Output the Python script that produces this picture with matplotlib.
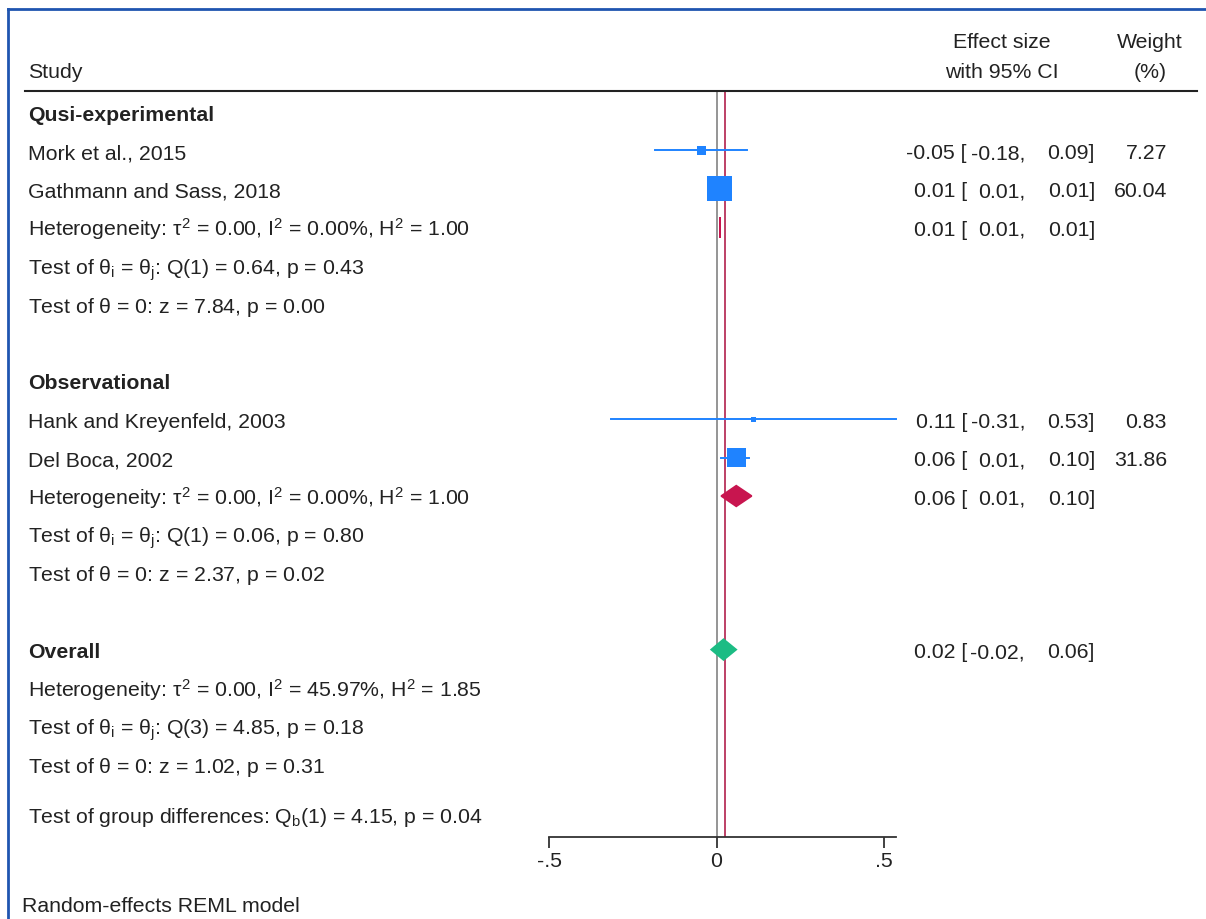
import numpy as np
import matplotlib.pyplot as plt
from matplotlib import transforms
from matplotlib.lines import Line2D
from matplotlib.patches import Polygon

plt.rcParams["font.family"] = ["Liberation Sans", "DejaVu Sans"]
plt.rcParams["mathtext.fontset"] = "custom"
plt.rcParams["mathtext.rm"] = "Liberation Sans"
plt.rcParams["mathtext.it"] = "Liberation Sans"
plt.rcParams["mathtext.bf"] = "Liberation Sans:bold"

# study level data
studies = ["Mork et al., 2015", "Gathmann and Sass, 2018",
           "Hank and Kreyenfeld, 2003", "Del Boca, 2002"]
study_rows = [1, 2, 8, 9]
study_es = [-0.05, 0.01, 0.11, 0.06]
study_lo = [-0.18, 0.01, -0.31, 0.01]
study_hi = [0.09, 0.01, 0.53, 0.10]
study_weight = [7.27, 60.04, 0.83, 31.86]
# plotted positions (a bit more precise than the labels)
study_x = [-0.045, 0.010, 0.110, 0.060]
study_x_lo = [-0.183, 0.010, -0.315, 0.012]
study_x_hi = [0.092, 0.010, 0.537, 0.098]

# subgroup / overall pooled estimates
pooled_names = ["Qusi-experimental", "Observational", "Overall"]
pooled_header_rows = [0, 7, 14]
pooled_rows = [3, 10, 14]
pooled_es = [0.01, 0.06, 0.02]
pooled_lo = [0.01, 0.01, -0.02]
pooled_hi = [0.01, 0.10, 0.06]
pooled_x = [0.011, 0.059, 0.021]
pooled_x_lo = [0.011, 0.014, -0.016]
pooled_x_hi = [0.011, 0.105, 0.059]
pooled_colors = ["#c8154f", "#c8154f", "#1cbc84"]

stat_rows = [3, 4, 5, 10, 11, 12, 15, 16, 17, 18.3]
stat_texts = [
    r"Heterogeneity: $\tau^2$ = 0.00, $\mathrm{I}^2$ = 0.00%, $\mathrm{H}^2$ = 1.00",
    r"Test of $\theta_\mathrm{i}$ = $\theta_\mathrm{j}$: Q(1) = 0.64, p = 0.43",
    r"Test of $\theta$ = 0: z = 7.84, p = 0.00",
    r"Heterogeneity: $\tau^2$ = 0.00, $\mathrm{I}^2$ = 0.00%, $\mathrm{H}^2$ = 1.00",
    r"Test of $\theta_\mathrm{i}$ = $\theta_\mathrm{j}$: Q(1) = 0.06, p = 0.80",
    r"Test of $\theta$ = 0: z = 2.37, p = 0.02",
    r"Heterogeneity: $\tau^2$ = 0.00, $\mathrm{I}^2$ = 45.97%, $\mathrm{H}^2$ = 1.85",
    r"Test of $\theta_\mathrm{i}$ = $\theta_\mathrm{j}$: Q(3) = 4.85, p = 0.18",
    r"Test of $\theta$ = 0: z = 1.02, p = 0.31",
    r"Test of group differences: $\mathrm{Q_b}$(1) = 4.15, p = 0.04",
]

xticks = [-0.5, 0, 0.5]
xtick_labels = ["-.5", "0", ".5"]

W, H = 1206, 920
FS = 15.3
TXT = "#222222"
BLUE = "#1f83ff"
BASE = 0.2  # baseline offset below row centre, in rows

fig = plt.figure(figsize=(W / 100, H / 100), dpi=100)
fig.patch.set_facecolor("white")

# plot panel: -0.5 at px 549, 1 unit = 335 px
x_left, x_right = -0.5, 0.536
unit = 335
ax = fig.add_axes([549 / W, (H - 838) / H, (x_right - x_left) * unit / W, (838 - 92) / H])
ax.set_xlim(x_left, x_right)
row_h = 38.4
y_top = (92 - 113) / row_h
y_bot = (838 - 113) / row_h
ax.set_ylim(y_bot, y_top)
ax.patch.set_alpha(0)
for s in ["top", "right", "left"]:
    ax.spines[s].set_visible(False)
ax.spines["bottom"].set_color("#333333")
ax.spines["bottom"].set_linewidth(1.3)
ax.set_yticks([])
ax.set_xticks(xticks)
ax.set_xticklabels(xtick_labels, fontsize=FS, color=TXT)
ax.tick_params(axis="x", direction="out", length=8, width=1.3, color="#333333", pad=2)

# reference lines
ax.axvline(0, color="#8c8c8c", lw=1.3, zorder=1)
ax.axvline(0.024, color="#b8325a", lw=1.3, zorder=1)

# studies
for r, x, lo, hi, w in zip(study_rows, study_x, study_x_lo, study_x_hi, study_weight):
    ax.plot([lo, hi], [r, r], color=BLUE, lw=1.4, zorder=3, clip_on=False)
    ax.scatter([x], [r], marker="s", s=max(5.4 * w, 12), color=BLUE, edgecolors="none",
               zorder=4, clip_on=False)

# pooled diamonds
half_h = 0.27
for r, x, lo, hi, c in zip(pooled_rows, pooled_x, pooled_x_lo, pooled_x_hi, pooled_colors):
    poly = Polygon([[lo, r], [x, r - half_h], [hi, r], [x, r + half_h]], closed=True,
                   facecolor=c, edgecolor=c, lw=1.2, zorder=4)
    ax.add_patch(poly)

# text columns
tr = transforms.blended_transform_factory(fig.transFigure, ax.transData)
xs = 28 / W


def put(x, r, s, ha="left", **kw):
    ax.text(x, r + BASE, s, transform=tr, fontsize=FS, color=TXT, va="baseline", ha=ha,
            clip_on=False, **kw)


put(xs, -1.1, "Study")
put(1002 / W, -1.9, "Effect size", ha="center")
put(1002 / W, -1.1, "with 95% CI", ha="center")
put(1150 / W, -1.9, "Weight", ha="center")
put(1150 / W, -1.1, "(%)", ha="center")

for name, r in zip(pooled_names, pooled_header_rows):
    put(xs, r, name, fontweight="bold")

for name, r in zip(studies, study_rows):
    put(xs, r, name)

for txt, r in zip(stat_texts, stat_rows):
    put(xs, r, txt)


def es_ci(r, es, lo, hi):
    put(967 / W, r, f"{es:.2f} [", ha="right")
    put(1025 / W, r, f"{lo:.2f},", ha="right")
    put(1095 / W, r, f"{hi:.2f}]", ha="right")


for r, es, lo, hi, w in zip(study_rows, study_es, study_lo, study_hi, study_weight):
    es_ci(r, es, lo, hi)
    put(1167 / W, r, f"{w:.2f}", ha="right")
for r, es, lo, hi in zip(pooled_rows, pooled_es, pooled_lo, pooled_hi):
    es_ci(r, es, lo, hi)

fig.text(22 / W, 1 - 912 / H, "Random-effects REML model", fontsize=FS, color=TXT, va="baseline")

# header rule
fig.add_artist(Line2D([25 / W, 1197 / W], [1 - 92 / H, 1 - 92 / H], color="#222222", lw=1.5))

# blue frame (top and left)
fig.add_artist(Line2D([8 / W, 1.0], [1 - 9.5 / H, 1 - 9.5 / H], color="#1f55b0", lw=2))
fig.add_artist(Line2D([8 / W, 8 / W], [0, 1 - 9.5 / H], color="#1f55b0", lw=2))

fig.savefig("out.png", dpi=100)
